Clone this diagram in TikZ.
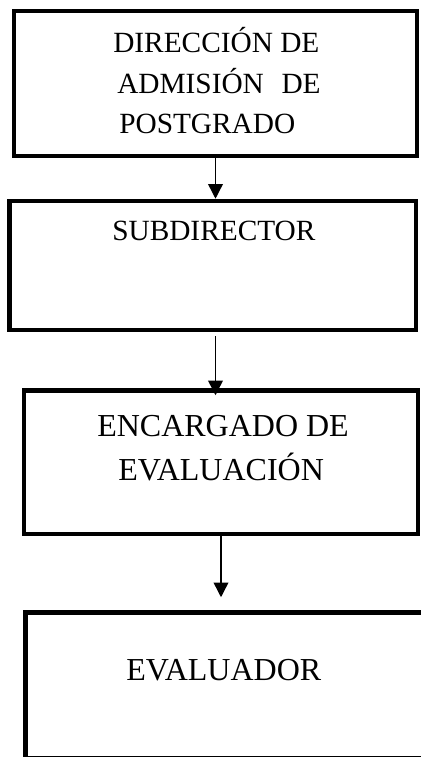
\documentclass[tikz,border=0pt]{standalone}
\usepackage{fontspec}
\setmainfont{Liberation Serif}
\usetikzlibrary{arrows.meta}
\begin{document}
\begin{tikzpicture}[x=0.75pt,y=-0.75pt,
  box/.style={draw=black,line width=3.4pt,rectangle,inner sep=0pt,fill=none},
  lbl/.style={anchor=base west,inner sep=0pt,text=black},
  arr/.style={draw=black,line width=1.1pt,-{Triangle[length=11pt,width=11pt]}},
  small/.style={font=\fontsize{22}{26}\selectfont},
  big/.style={font=\fontsize{24}{28}\selectfont}]
\useasboundingbox (0,0) rectangle (421,757);
\clip (0,0) rectangle (421,757);
\fill[white] (0,0) rectangle (421,757);
% boxes
\node[box,minimum width=302.25pt,minimum height=108.75pt] (b1) at (215.5,83.5) {};
\node[box,minimum width=304.7pt,minimum height=96.75pt] (b2) at (212.85,265.5) {};
\node[box,minimum width=295.5pt,minimum height=107.6pt] (b3) at (221,462.25) {};
\node[box,minimum width=318.4pt,minimum height=109.5pt] (b4) at (237.75,685.5) {};
% texts
\node[lbl,small] (t1a) at (113,52) {DIRECCIÓN DE};
\node[lbl,small] (t1b) at (117,93) {ADMISIÓN\hspace{0.6em}DE};
\node[lbl,small] (t1c) at (119,133) {POSTGRADO};
\node[lbl,small] (t2) at (112,240) {SUBDIRECTOR};
\node[lbl,big] (t3a) at (97,436) {ENCARGADO DE};
\node[lbl,big] (t3b) at (118,480) {EVALUACIÓN};
\node[lbl,big] (t4) at (126,680) {EVALUADOR};
% arrows
\draw[arr] (b1.south) -- (b1.south |- b2.north);
\draw[arr,shorten <=3pt,shorten >=-5.25pt] (b1.south |- b2.south) -- (b1.south |- b3.north);
\draw[arr,shorten >=9.75pt] (b3.south) -- (b3.south |- b4.north);
\end{tikzpicture}
\end{document}
